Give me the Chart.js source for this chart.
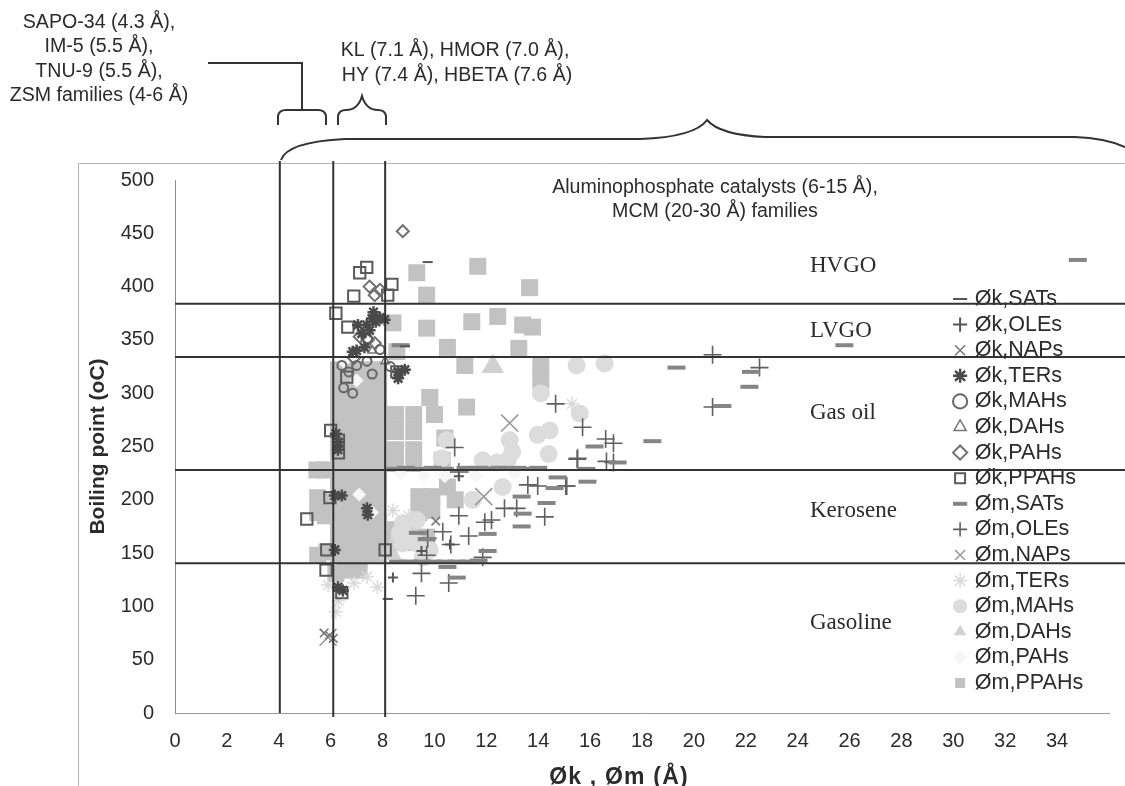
<!DOCTYPE html>
<html lang="en">
<head>
<meta charset="UTF-8">
<title>Boiling point vs kinetic and molecular diameter</title>
<script src="https://cdn.jsdelivr.net/npm/chart.js@4"></script>
<style>
    html, body { margin: 0; background: #fff; }
    canvas { display: block; filter: blur(0.5px); }
</style>
</head>
<body>
<canvas id="poreChart" width="1125" height="786"></canvas>
<script>
// tick labels
const xTickLabels = [0, 2, 4, 6, 8, 10, 12, 14, 16, 18, 20, 22, 24, 26, 28, 30, 32, 34];
const yTickLabels = [0, 50, 100, 150, 200, 250, 300, 350, 400, 450, 500];

// pore limits and distillation cut boundaries
const poreLimits = [4.04, 6.1, 8.1];
const cutBoundaries = [384, 334, 228, 140.5];

// series, [diameter, boiling point]
const okSats = [[8.2,107],[8.86,344],[9.74,423],[10.9,228]];
const okOles = [[10.94,222],[10.6,158],[8.4,127],[9.5,152]];
const okNaps = [[5.95,73],[5.75,75],[6.1,70],[10.05,180]];
const okTers = [[7.39,364],[7.59,370],[7.2,356],[7.9,371],[7.74,367],[7.5,359],[7,340],[7.3,343],[6.85,339],[8.08,369],[7.05,364],[7.65,376],
    [8.6,320],[8.86,322],[8.6,314],[6.28,247],[6.3,254],[6.43,204],[6.16,204],[6.16,153],[7.43,186],[7.4,192],[6.47,115],[6.28,118],[6.2,262]];
const okMahs = [[6.43,326],[7,326],[7.43,351],[7.9,341],[6.7,320],[7.4,330],[6.5,305],[6.85,300],[7.6,318],[8.3,325]];
const okDahs = [[8.1,330],[7.6,340]];
const okPahs = [[8.78,452],[7.5,400],[7.7,392],[7.9,397],[7.12,353],[7.43,350],[7.7,347],[6.9,333]];
const okPpahs = [[7.39,418],[7.12,413],[6.89,391],[8.36,402],[8.2,392],[6.66,362],[6.2,375],[6,265],[6.3,256],[6.3,244],[5.97,202],[5.08,182],
    [5.85,153],[5.82,134],[6.43,113],[8.1,153],[6.62,315],[8.55,320]];

const omSats = [[19.33,324],[18.4,255],[22.14,306],[21.1,288],[22.2,320],[16.17,250],[17.06,235],[15.86,229],[15.9,217],[25.8,345],[34.8,425],
    [14.75,221],[14.63,211],[14.32,197],[13.36,175],[13.4,187],[13.36,203],[12.05,168],[12.05,152],[10.86,127],[10.5,137],[9.7,163],[9.36,169],
    [10.86,142],[9.05,142],[9.93,142],[8.6,142],[9.5,142],[10.4,142],[11.3,142],[11.7,143],
    [8.9,230],[9.93,230],[10.97,227],[11.2,230],[11.74,230],[12.5,230],[13.2,230],[14,230],[8.5,229],[9.4,229],[10.4,229],[12,229],[12.9,229],[13.7,229],[8.7,345]];
const omOles = [[14.67,290],[10.78,249],[15.5,238],[13.6,214],[13.98,213],[15.06,213],[12.7,192],[13.17,192],[14.25,184],[10.94,185],[11.94,179],
    [12.2,181],[11.32,166],[10.32,170],[10.63,158],[9.74,164],[10.94,226],[9.5,131],[10.55,122],[9.28,110],[11.86,146],[9.7,148],[20.72,287],
    [20.72,336],[22.53,324],[15.71,268],[15.52,239],[16.6,257],[16.9,253],[16.63,236],[16.9,235],[15.1,213]];
const omNaps = [[12.9,272],[11.9,203],[5.9,71]];
const omTers = [[6.3,105],[6.9,122],[7.4,128],[5.9,120],[6.2,95],[8.4,190],[9,185],[15.3,290],[7.8,118]];
const omMahs = [[12.9,256],[13,245],[12.82,237],[13.98,261],[14.44,265],[10.47,256],[11.86,237],[10.28,239],[12.63,212],[11.47,200],[8.78,178],
    [8.66,169],[8.93,165],[9.32,181],[8.78,159],[9.32,159],[9.82,153],[9.55,146],[15.48,326],[14.1,300],[16.56,328],[15.6,281],[14.4,243],[12.4,235]];
const omDahs = [[12.25,325],[8.5,160],[9.1,172],[8.3,150]];
const omPahs = [[7.59,188],[7.1,205],[8.7,225],[9.6,223],[10.4,222],[11.6,222],[13.1,225],[6.5,330],[7,312]];
const omPpahs = [[9.32,413],[11.67,419],[13.67,399],[9.7,392],[8.4,366],[9.7,361],[11.44,367],[12.44,372],[13.4,364],[13.78,362],[10.5,343],
    [13.25,342],[8.55,339],[11.17,326],[14.1,325],[14.1,312],[11.24,287],[9.82,296],[10,280],[10.4,258],
    [8.5,280],[9.2,280],[8.5,264],[9.2,264],[8.5,247],[9.2,247],[8.5,234],[9.2,234],
    [9.4,203],[9.9,203],[9.4,188],[9.9,190],[10.5,212],[10.8,200],[10.3,237],
    [8.5,172],[9.1,168],[8.5,160],[9.1,160],[9.7,165],
    [5.47,228],[5.78,228],[5.5,202],[5.5,188],[5.8,200],[5.8,185],[5.5,148],[5.85,151],[6.55,134],[7.1,134],[6.2,131],
    [6.3,322],[6.85,322],[7.4,322],[7.85,322],[6.3,308],[6.85,308],[7.4,308],[7.85,308],[6.3,293],[6.85,293],[7.4,293],[7.85,293],
    [6.3,278],[6.85,278],[7.4,278],[7.85,278],[6.3,264],[6.85,264],[7.4,264],[7.85,264],[6.3,249],[6.85,249],[7.4,249],[7.85,249],
    [6.3,236],[6.85,236],[7.4,236],[7.85,236],[6.3,221],[6.85,221],[7.4,221],[7.85,221],[6.3,207],[6.85,207],[7.4,207],[7.85,207],
    [6.3,192],[6.85,192],[7.4,192],[7.85,192],[6.3,177],[6.85,177],[7.4,177],[7.85,177],[6.3,163],[6.85,163],[7.4,163],[7.85,163],
    [6.3,149],[6.85,149],[7.4,149],[7.85,149]];

function series(label, data, pointStyle, pointRadius, borderColor, backgroundColor, borderWidth) {
    return { label, data, pointStyle, pointRadius, borderColor, backgroundColor, borderWidth, showLine: false, clip: false };
}

// draws the cut lines, pore lines, braces and the notes round the plot
const overlay = {
    id: 'overlay',
    afterLayout(chart) {
        const legend = chart.legend;
        legend.left = 952;
        legend.right = 1125;
        legend.top = 262;
        legend.bottom = 720;
    },
    afterDatasetsDraw(chart) {
        const { ctx, scales: { x, y } } = chart;
        ctx.save();

        // thin frame of the original figure
        ctx.strokeStyle = '#b5b5b5';
        ctx.lineWidth = 1;
        ctx.beginPath();
        ctx.moveTo(78.5, 786); ctx.lineTo(78.5, 163.5); ctx.lineTo(1125, 163.5);
        ctx.stroke();

        ctx.strokeStyle = '#333';
        ctx.lineWidth = 2;
        cutBoundaries.forEach(v => {
            ctx.beginPath();
            ctx.moveTo(x.left, y.getPixelForValue(v));
            ctx.lineTo(1125, y.getPixelForValue(v));
            ctx.stroke();
        });
        poreLimits.forEach((v, i) => {
            ctx.beginPath();
            ctx.moveTo(x.getPixelForValue(v), 161);
            ctx.lineTo(x.getPixelForValue(v), i === 0 ? 713 : 717);
            ctx.stroke();
        });

        // small braces
        ctx.lineWidth = 2;
        ctx.beginPath();
        ctx.moveTo(278, 125); ctx.lineTo(278, 116); ctx.quadraticCurveTo(279, 110, 286, 110);
        ctx.lineTo(318, 110); ctx.quadraticCurveTo(325, 110, 326, 116); ctx.lineTo(326, 125);
        ctx.moveTo(302, 110); ctx.lineTo(302, 63); ctx.lineTo(208, 63);
        ctx.moveTo(338, 125); ctx.lineTo(338, 116); ctx.quadraticCurveTo(339, 110, 346, 110);
        ctx.quadraticCurveTo(358, 110, 362, 96); ctx.quadraticCurveTo(366, 110, 378, 110);
        ctx.quadraticCurveTo(385, 110, 386, 116); ctx.lineTo(386, 125);
        ctx.stroke();

        // big brace over the whole range
        ctx.beginPath();
        ctx.moveTo(281, 160);
        ctx.bezierCurveTo(285, 148, 305, 141, 345, 139);
        ctx.lineTo(640, 139);
        ctx.quadraticCurveTo(695, 137, 707, 120);
        ctx.quadraticCurveTo(720, 135, 765, 137);
        ctx.lineTo(1075, 137);
        ctx.quadraticCurveTo(1105, 138, 1125, 147);
        ctx.stroke();

        ctx.fillStyle = '#2b2b2b';
        ctx.textBaseline = 'middle';
        ctx.textAlign = 'center';
        ctx.font = '19.6px "Liberation Sans"';
        ctx.fillText('SAPO-34 (4.3 Å),', 99, 23);
        ctx.fillText('IM-5 (5.5 Å),', 99, 47);
        ctx.fillText('TNU-9 (5.5 Å),', 99, 72);
        ctx.fillText('ZSM families (4-6 Å)', 99, 96);
        ctx.fillText('KL (7.1 Å), HMOR (7.0 Å),', 455, 51);
        ctx.fillText('HY (7.4 Å), HBETA (7.6 Å)', 457, 76);
        ctx.fillText('Aluminophosphate catalysts (6-15 Å),', 715, 188);
        ctx.fillText('MCM (20-30 Å) families', 715, 212);

        ctx.textAlign = 'left';
        ctx.font = '23px "Liberation Serif"';
        ctx.fillText('HVGO', 810, 266);
        ctx.fillText('LVGO', 810, 331);
        ctx.fillText('Gas oil', 810, 413);
        ctx.fillText('Kerosene', 810, 511);
        ctx.fillText('Gasoline', 810, 623);

        ctx.textAlign = 'center';
        ctx.font = 'bold 23px "Liberation Sans"';
        ctx.letterSpacing = '1.2px';
        ctx.fillText('Øk , Øm (Å)', 619, 778);
        ctx.restore();
    }
};

new Chart(document.getElementById('poreChart'), {
    type: 'scatter',
    data: {
        datasets: [
            series('Øk,SATs', okSats, 'line', 5, '#555', '#555', 2),
            series('Øk,OLEs', okOles, 'cross', 5, '#555', '#555', 2),
            series('Øk,NAPs', okNaps, 'crossRot', 6, '#777', '#777', 1.5),
            series('Øk,TERs', okTers, 'star', 6, '#4a4a4a', '#4a4a4a', 2.5),
            series('Øk,MAHs', okMahs, 'circle', 4.5, '#666', 'rgba(255,255,255,0)', 2),
            series('Øk,DAHs', okDahs, 'triangle', 5, '#777', 'rgba(255,255,255,0)', 1.5),
            series('Øk,PAHs', okPahs, 'rectRot', 6, '#707070', 'rgba(255,255,255,0)', 2),
            series('Øk,PPAHs', okPpahs, 'rect', 8, '#5a5a5a', 'rgba(255,255,255,0)', 2),
            series('Øm,SATs', omSats, 'line', 9, '#858585', '#858585', 4),
            series('Øm,OLEs', omOles, 'cross', 9, '#5f5f5f', '#5f5f5f', 1.6),
            series('Øm,NAPs', omNaps, 'crossRot', 12, '#999', '#999', 1.6),
            series('Øm,TERs', omTers, 'star', 7, '#dadada', '#dadada', 1.5),
            series('Øm,MAHs', omMahs, 'circle', 9, '#dcdcdc', '#dcdcdc', 0),
            series('Øm,DAHs', omDahs, 'triangle', 13, '#d0d0d0', '#d0d0d0', 0),
            series('Øm,PAHs', omPahs, 'rectRot', 7, '#f6f6f6', '#f6f6f6', 0),
            series('Øm,PPAHs', omPpahs, 'rect', 12, '#c2c2c2', '#c2c2c2', 0)
        ]
    },
    options: {
        responsive: false,
        animation: false,
        events: [],
        layout: { padding: { left: 0, top: 180, right: 15, bottom: 0 } },
        plugins: {
            tooltip: { enabled: false },
            legend: {
                position: 'chartArea',
                labels: {
                    usePointStyle: true,
                    boxHeight: 10,
                    boxWidth: 8,
                    padding: 4.1,
                    color: '#2b2b2b',
                    font: { family: '"Liberation Sans"', size: 21.5 }
                }
            }
        },
        scales: {
            x: {
                type: 'linear',
                min: 0,
                max: 36,
                afterFit: s => { s.height = 73; },
                grid: { display: false, drawTicks: false },
                border: { color: '#999', width: 1 },
                ticks: {
                    stepSize: 2,
                    maxRotation: 0,
                    autoSkip: false,
                    padding: 16,
                    color: '#2b2b2b',
                    font: { family: '"Liberation Sans"', size: 20 },
                    callback: v => xTickLabels.includes(v) ? v : ''
                }
            },
            y: {
                type: 'linear',
                min: 0,
                max: 500,
                afterFit: s => { s.width = 175; },
                grid: { display: false, drawTicks: false },
                border: { color: '#8c8c8c', width: 1 },
                title: {
                    display: true,
                    text: 'Boiling point (oC)',
                    color: '#2b2b2b',
                    padding: { top: 86, bottom: 0 },
                    font: { family: '"Liberation Sans"', size: 21, weight: 'bold' }
                },
                ticks: {
                    stepSize: 50,
                    padding: 21,
                    color: '#2b2b2b',
                    font: { family: '"Liberation Sans"', size: 20 },
                    callback: v => yTickLabels.includes(v) ? v : ''
                }
            }
        }
    },
    plugins: [overlay]
});
</script>
</body>
</html>
